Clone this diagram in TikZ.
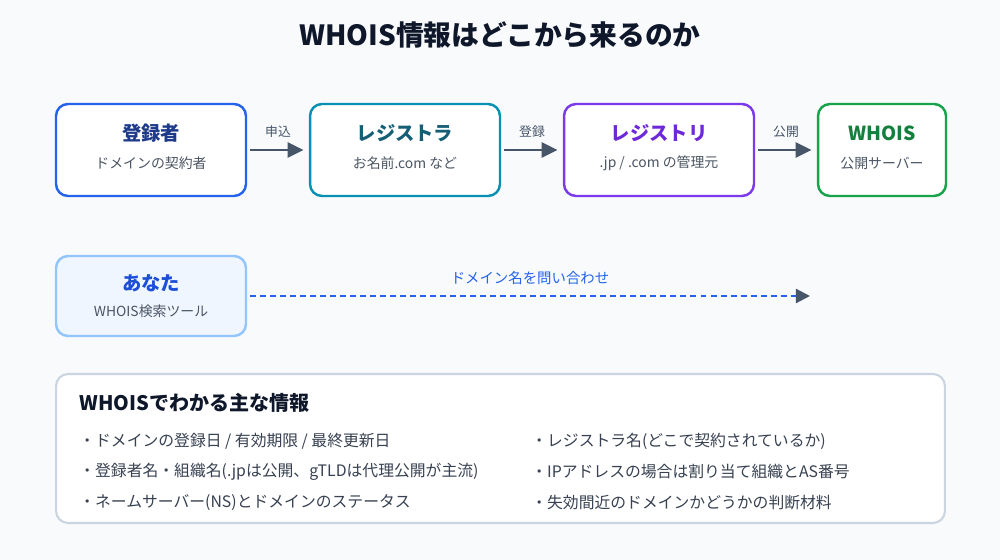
\documentclass[tikz,border=0pt]{standalone}
\usepackage{fontspec}
\setmainfont{Noto Sans CJK JP}
\usepackage{tikz}
\usetikzlibrary{arrows.meta, positioning, calc}
\definecolor{bgc}{HTML}{F8FAFC}
\definecolor{headc}{HTML}{0F172A}
\definecolor{subc}{HTML}{4B5563}
\definecolor{itemc}{HTML}{374151}
\definecolor{arrc}{HTML}{475569}
\definecolor{regc}{HTML}{2563EB}
\definecolor{regt}{HTML}{1E3A8A}
\definecolor{rarc}{HTML}{0891B2}
\definecolor{rart}{HTML}{155E75}
\definecolor{ryc}{HTML}{7C3AED}
\definecolor{ryt}{HTML}{6D28D9}
\definecolor{whc}{HTML}{16A34A}
\definecolor{wht}{HTML}{15803D}
\definecolor{youfill}{HTML}{EFF6FF}
\definecolor{youc}{HTML}{93C5FD}
\definecolor{yout}{HTML}{1D4ED8}
\definecolor{infoc}{HTML}{CBD5E1}

\begin{document}
\begin{tikzpicture}[
  x=0.02cm, y=-0.02cm,
  box/.style={draw, rounded corners=6.8pt, line width=1.4pt, fill=white, minimum width=3.8cm, minimum height=1.84cm},
  ttl/.style={font=\bfseries\fontsize{11}{12}\selectfont},
  sub/.style={font=\fontsize{7.9}{9}\selectfont, text=subc},
  flow/.style={-{Triangle[length=9pt,width=8.5pt]}, line width=1.4pt, draw=arrc, shorten <=1.5pt, shorten >=3pt},
  lbl/.style={font=\fontsize{7.3}{8}\selectfont, text=arrc},
  item/.style={anchor=west, font=\fontsize{9}{10}\selectfont, text=itemc, inner sep=0pt}
  ]
  \fill[bgc] (0,0) rectangle (1000,560);
  \node[font=\bfseries\fontsize{15.8}{17}\selectfont, text=headc] (head) at (500,35) {WHOIS情報はどこから来るのか};

  % flow of registration
  \node[box, draw=regc] (reg) at (151,150) {};
  \node[ttl, text=regt] (regT) at ($(reg)+(0,-17)$) {登録者};
  \node[sub] (regS) at ($(reg)+(0,13)$) {ドメインの契約者};
  \node[box, draw=rarc] (rar) at (405,150) {};
  \node[ttl, text=rart] (rarT) at ($(rar)+(0,-17)$) {レジストラ};
  \node[sub] (rarS) at ($(rar)+(0,13)$) {お名前.com など};
  \node[box, draw=ryc] (ry) at (659,150) {};
  \node[ttl, text=ryt] (ryT) at ($(ry)+(0,-17)$) {レジストリ};
  \node[sub] (ryS) at ($(ry)+(0,13)$) {.jp / .com の管理元};
  \node[box, draw=whc, minimum width=2.56cm] (who) at (882,150) {};
  \node[ttl, text=wht] (whoT) at ($(who)+(0,-17)$) {WHOIS};
  \node[sub] (whoS) at ($(who)+(0,13)$) {公開サーバー};
  \draw[flow] (reg) -- node[lbl, midway, yshift=10.2pt] (l1) {申込} (rar);
  \draw[flow] (rar) -- node[lbl, midway, yshift=10.2pt] (l2) {登録} (ry);
  \draw[flow] (ry) -- node[lbl, midway, yshift=10.2pt] (l3) {公開} (who);

  % lookup
  \node[box, draw=youc, fill=youfill, minimum height=1.6cm] (you) at (151,296) {};
  \node[ttl, text=yout] (youT) at ($(you)+(0,-13)$) {あなた};
  \node[sub] (youS) at ($(you)+(0,15)$) {WHOIS検索ツール};
  \coordinate (qend) at (810,296);
  \draw[draw=regc, line width=1.2pt, dash pattern=on 3.4pt off 2.3pt, shorten <=1.5pt,
    -{Triangle[length=8pt,width=8pt,color=arrc]}] (you) -- (qend);
  \node[lbl, text=regc, font=\fontsize{8.2}{9}\selectfont] (ql) at (530,278) {ドメイン名を問い合わせ};

  % what WHOIS shows
  \node[draw=infoc, line width=1.2pt, fill=white, rounded corners=6.8pt, minimum width=17.78cm, minimum height=2.98cm] (info) at (500.5,448.5) {};
  \node[anchor=west, inner sep=0pt, font=\bfseries\fontsize{11.4}{13}\selectfont, text=headc] (infoT) at (79,403) {WHOISでわかる主な情報};
  \node[item] (i1) at (79,441) {・ドメインの登録日 / 有効期限 / 最終更新日};
  \node[item] (i2) at (79,472) {・登録者名・組織名(.jpは公開、gTLDは代理公開が主流)};
  \node[item] (i3) at (79,503) {・ネームサーバー(NS)とドメインのステータス};
  \node[item] (i4) at (531,441) {・レジストラ名(どこで契約されているか)};
  \node[item] (i5) at (531,472) {・IPアドレスの場合は割り当て組織とAS番号};
  \node[item] (i6) at (531,503) {・失効間近のドメインかどうかの判断材料};
\end{tikzpicture}
\end{document}
